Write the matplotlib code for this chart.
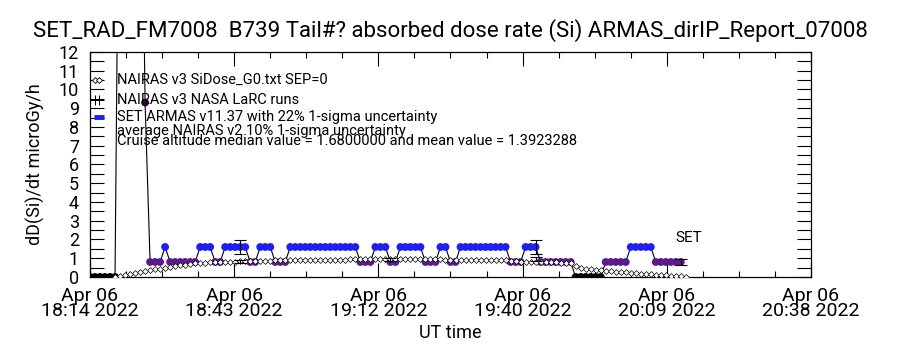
import numpy as np
import matplotlib.pyplot as plt

plt.rcParams['font.family'] = ['Roboto', 'DejaVu Sans']

# minutes after 18:14 UT, one ARMAS sample per minute
armas_min = list(range(0, 119))
armas_dose = [0, 0, 0, 0, 0, 0,
              30, 30, 30, 30, 30, 9.3,
              0.8, 0.8, 0.8, 1.6,
              0.8, 0.8, 0.8, 0.8, 0.8, 0.8,
              1.6, 1.6, 1.6, 0.8, 0.8,
              1.6, 1.6, 1.6, 1.6, 1.6, 0.8, 0.8,
              1.6, 1.6, 1.6, 0.8, 0.8, 0.8,
              1.6, 1.6, 1.6, 1.6, 1.6, 1.6, 1.6, 1.6, 1.6, 1.6, 1.6, 1.6, 1.6, 1.6,
              0.8, 0.8, 0.8, 1.6, 1.6, 1.6, 0.8, 0.8,
              1.6, 1.6, 1.6, 1.6, 1.6, 0.8, 0.8, 0.8,
              1.6, 1.6, 0.8, 0.8,
              1.6, 1.6, 1.6, 1.6, 1.6, 1.6, 1.6, 1.6, 1.6, 1.6,
              0.8, 0.8, 0.8, 1.6, 1.6, 1.6,
              0.8, 0.8, 0.8, 0.8, 0.8, 0.8, 0.8,
              0, 0, 0, 0, 0, 0,
              0.8, 0.8, 0.8, 0.8, 0.8,
              1.6, 1.6, 1.6, 1.6, 1.6,
              0.8, 0.8, 0.8, 0.8, 0.8, 0.8]

# NAIRAS v3 model dose rate
nairas_min = list(range(5, 120))
nairas_dose = [0.0, 0.05, 0.1, 0.15, 0.2, 0.25, 0.3, 0.35, 0.4, 0.45,
               0.5, 0.55, 0.58, 0.62, 0.66, 0.7, 0.72, 0.74, 0.76, 0.78,
               0.79, 0.8, 0.81, 0.82, 0.82, 0.83, 0.84, 0.85, 0.85, 0.86,
               0.87, 0.87, 0.88, 0.88, 0.89, 0.89, 0.9, 0.9, 0.9, 0.91,
               0.91, 0.92, 0.92, 0.92, 0.93, 0.93, 0.93, 0.94, 0.94, 0.94,
               0.94, 0.95, 0.95, 0.95, 0.95, 0.95, 0.95, 0.95, 0.95, 0.95,
               0.95, 0.95, 0.94, 0.94, 0.94, 0.94, 0.93, 0.93, 0.93, 0.92,
               0.92, 0.92, 0.91, 0.91, 0.9, 0.9, 0.9, 0.89, 0.88, 0.86,
               0.84, 0.82, 0.8, 0.8, 0.8, 0.8, 0.79, 0.78, 0.78, 0.77,
               0.76, 0.75, 0.6, 0.5, 0.45, 0.42, 0.38, 0.35, 0.32, 0.3,
               0.28, 0.26, 0.24, 0.22, 0.2, 0.18, 0.16, 0.14, 0.12, 0.1,
               0.08, 0.06, 0.05, 0.03, 0.02]

# 22% ARMAS and 10% NAIRAS error bars
err_armas_min = [30, 89, 118]
err_armas_val = [1.6, 1.6, 0.8]
err_nairas_min = [30, 60, 89]
err_nairas_val = [0.82, 0.92, 0.95]

xtick_min = [0, 28.8, 57.6, 86.4, 115.2, 144]
xtick_lab = ["Apr 06\n18:14 2022", "Apr 06\n18:43 2022", "Apr 06\n19:12 2022",
             "Apr 06\n19:40 2022", "Apr 06\n20:09 2022", "Apr 06\n20:38 2022"]


def dose_colour(v):
    if v <= 0:
        return "black"
    if v < 1.2:
        return "#5b1a8e"
    if v < 2:
        return "#1f1ff2"
    return "#2a0a2a"


fig = plt.figure(figsize=(9, 3.5), dpi=100)
ax = fig.add_axes([0.1, 0.2086, 0.8011, 0.6429])

ax.plot(armas_min, armas_dose, color="black", lw=0.8, zorder=2)
ax.scatter(armas_min, armas_dose, c=[dose_colour(v) for v in armas_dose],
           s=32, marker="o", linewidths=0, zorder=3)
ax.plot(nairas_min, nairas_dose, ls="none", marker="D", ms=3, mfc="white",
        mec="black", mew=0.5, zorder=4)

ax.errorbar(err_armas_min, err_armas_val, yerr=[0.22 * v for v in err_armas_val],
            fmt="none", ecolor="black", elinewidth=0.8, capsize=4, capthick=0.8, zorder=5)
ax.errorbar(err_nairas_min, err_nairas_val, yerr=[0.1 * v for v in err_nairas_val],
            fmt="none", ecolor="black", elinewidth=0.8, capsize=4, capthick=0.8, zorder=5)

ax.text(117, 2.1, "SET", fontsize=11, ha="left", va="center")

# legend drawn by hand, IDL style
leg = [("NAIRAS v3 SiDose_G0.txt SEP=0", 0.876),
       ("NAIRAS v3 NASA LaRC runs", 0.787),
       ("SET ARMAS v11.37 with 22% 1-sigma uncertainty", 0.71),
       ("average NAIRAS v2 10% 1-sigma uncertainty", 0.651),
       ("Cruise altitude median value = 1.6800000 and mean value = 1.3923288", 0.604)]
for txt, yy in leg:
    ax.text(0.0374, yy, txt, transform=ax.transAxes, fontsize=10.5, va="center", ha="left")
ax.plot([0.0075, 0.013], [0.876, 0.876], transform=ax.transAxes, ls="none",
        marker="D", ms=3, mfc="white", mec="black", mew=0.6, clip_on=False)
ax.plot([0.0075, 0.013], [0.787, 0.787], transform=ax.transAxes, ls="none",
        marker="+", ms=7, mec="black", mew=0.7, clip_on=False)
ax.plot([0.006, 0.02], [0.71, 0.71], transform=ax.transAxes, color="#1f1ff2",
        lw=3.5, solid_capstyle="butt")

ax.set_xlim(0, 144)
ax.set_ylim(0, 12)
ax.set_xticks(xtick_min)
ax.set_xticklabels(xtick_lab, fontsize=14, linespacing=0.8)
ax.set_xticks(np.arange(0, 144, 7.2), minor=True)
ax.set_yticks(range(0, 13))
ax.set_yticklabels([str(i) for i in range(0, 13)], fontsize=13)
ax.set_yticks(np.arange(0, 12.01, 0.5), minor=True)
ax.tick_params(which="both", direction="in", top=True, right=True, width=0.8)
ax.tick_params(axis="y", which="both", length=10, pad=8)
ax.tick_params(axis="x", which="major", length=10, pad=7)
ax.tick_params(axis="x", which="minor", length=4)
for s in ax.spines.values():
    s.set_linewidth(0.9)

ax.set_xlabel("UT time", fontsize=13, labelpad=3)
ax.set_ylabel("dD(Si)/dt microGy/h", fontsize=13, labelpad=10)
fig.suptitle("SET_RAD_FM7008  B739 Tail#? absorbed dose rate (Si) ARMAS_dirIP_Report_07008",
             fontsize=16, y=0.945)

fig.savefig("out.png", dpi=100)
